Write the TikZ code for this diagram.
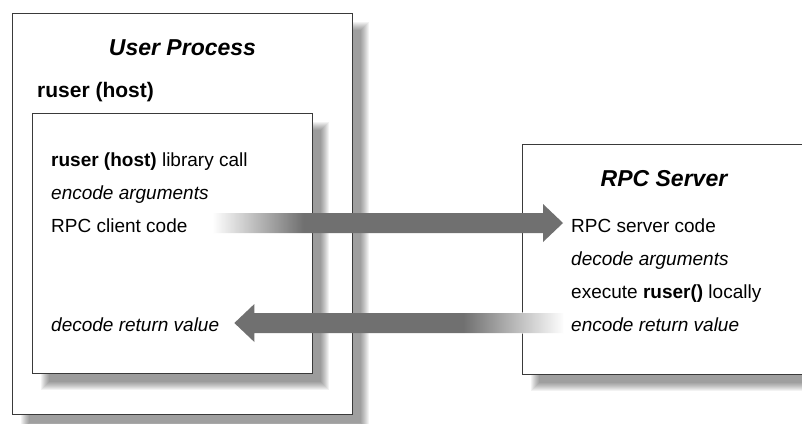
\documentclass[tikz,border=0pt]{standalone}
\usepackage{fontspec}
\setmainfont{Liberation Sans}
\usetikzlibrary{calc,fadings}

\definecolor{arrowgray}{RGB}{112,112,112}
\definecolor{edgegray}{RGB}{58,58,58}

% white-to-clear washes that soften the tails of the arrows
\tikzfading[name=washright, left color=transparent!0, right color=transparent!100]
\tikzfading[name=washleft, left color=transparent!100, right color=transparent!0]

\tikzset{
  panel/.style={draw=edgegray, line width=1.3pt, fill=white, inner sep=0pt, anchor=north west},
  txt/.style={anchor=base west, inner sep=0pt, font=\fontsize{19}{23}\selectfont},
  boxtitle/.style={anchor=base, inner sep=0pt, font=\fontsize{23}{27}\selectfont\bfseries\itshape},
  subtitle/.style={anchor=base west, inner sep=0pt, font=\fontsize{21}{25}\selectfont\bfseries},
  bigarrow/.style={fill=arrowgray},
}

% soft drop shadow behind a box given by its corners (x1,y1) and (x2,y2)
\newcommand\softshadow[4]{%
  \foreach \e in {-4,...,4}{%
    \fill[black, opacity=0.052]
      ({#1+13-\e},{#2+13-\e}) rectangle ({#3+13+\e},{#4+13+\e});
  }%
}

\begin{document}
\begin{tikzpicture}[x=1pt, y=-1pt]
  \useasboundingbox (0,0) rectangle (802,423);

  % shadows
  \softshadow{12}{13}{352}{414}
  \softshadow{522}{144}{808}{374}

  % client side
  \node[panel, minimum width=340pt, minimum height=401pt] (outer) at (12,13) {};
  \softshadow{32}{113}{312}{373}
  \node[panel, minimum width=280pt, minimum height=260pt] (inner) at (32,113) {};

  \node[boxtitle] (usertitle) at (182.5,55) {User Process};
  \node[subtitle] (rhost) at (37,97) {ruser (host)};

  \node[txt] (libcall) at (51,166) {\textbf{ruser (host)} library call};
  \node[txt] (encargs) at (51,199) {\itshape encode arguments};
  \node[txt] (cli)     at (51,232) {RPC client code};
  \node[txt] (decret)  at (51,331) {\itshape decode return value};

  % server side
  \node[panel, minimum width=286pt, minimum height=230pt] (server) at (522,144) {};
  \node[boxtitle] (srvtitle) at (664,186) {RPC Server};

  \node[txt] (srvcode) at (571,232) {RPC server code};
  \node[txt] (decargs) at (571,265) {\itshape decode arguments};
  \node[txt] (exec)    at (571,298) {execute \textbf{ruser()} locally};
  \node[txt] (encret)  at (571,331) {\itshape encode return value};

  % call arrow: client -> server
  \coordinate (callA) at ($(cli.base east)+(26,-9)$);
  \coordinate (callB) at ($(srvcode.base west)+(-8,-9)$);
  \fill[bigarrow]
    ($(callA)+(0,-10)$) -- ($(callB)+(-20,-10)$) -- ($(callB)+(-20,-19)$)
    -- (callB) -- ($(callB)+(-20,19)$) -- ($(callB)+(-20,10)$)
    -- ($(callA)+(0,10)$) -- cycle;
  \fill[white, path fading=washright]
    ($(callA)+(-1,-11)$) rectangle ($(callA)+(90,11)$);

  % return arrow: server -> client
  \coordinate (retA) at ($(encret.base west)+(-8,-8)$);
  \coordinate (retB) at ($(decret.base east)+(15,-8)$);
  \fill[bigarrow]
    ($(retA)+(0,-10)$) -- ($(retB)+(20,-10)$) -- ($(retB)+(20,-19)$)
    -- (retB) -- ($(retB)+(20,19)$) -- ($(retB)+(20,10)$)
    -- ($(retA)+(0,10)$) -- cycle;
  \fill[white, path fading=washleft]
    ($(retA)+(-100,-11)$) rectangle ($(retA)+(1,11)$);
\end{tikzpicture}
\end{document}
